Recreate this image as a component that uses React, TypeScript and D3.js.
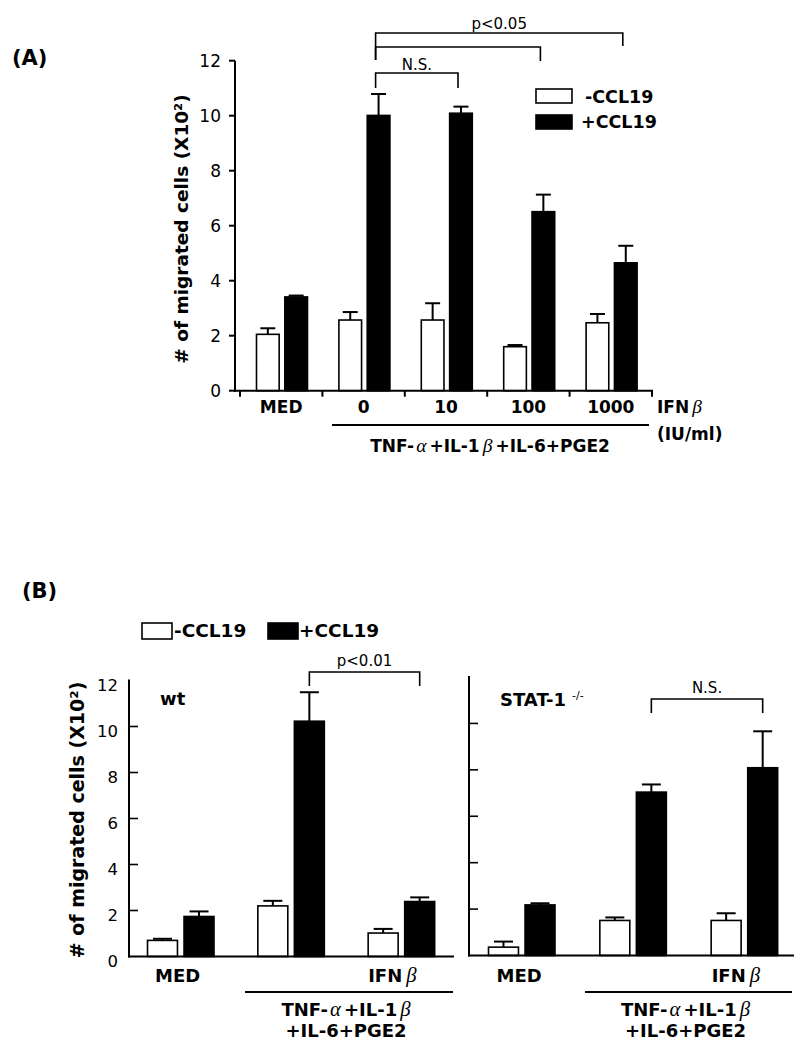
import React from "react";
import * as d3 from "d3";

// panel A
const catsA = ["MED", "0", "10", "100", "1000"];
const minusA = [2.05, 2.57, 2.57, 1.6, 2.47];
const minusErrA = [0.22, 0.29, 0.61, 0.06, 0.32];
const plusA = [3.41, 10.01, 10.09, 6.51, 4.65];
const plusErrA = [0.05, 0.78, 0.24, 0.62, 0.62];
const ticksA = [0, 2, 4, 6, 8, 10, 12];

// panel B
const catsB = ["MED", "TNF", "IFN"];
const wtMinus = [0.7, 2.2, 1.02];
const wtMinusErr = [0.07, 0.22, 0.18];
const wtPlus = [1.74, 10.23, 2.39];
const wtPlusErr = [0.22, 1.26, 0.18];
const statMinus = [0.36, 1.51, 1.51];
const statMinusErr = [0.24, 0.13, 0.31];
const statPlus = [2.18, 7.04, 8.09];
const statPlusErr = [0.07, 0.33, 1.57];
const ticksB = [0, 2, 4, 6, 8, 10, 12];

const series = ["minus", "plus"];
const SANS = "'DejaVu Sans', Verdana, sans-serif";
const SERIF = "'Liberation Serif', 'DejaVu Serif', serif";

function Greek({ ch, dx = 3 }: { ch: string; dx?: number }) {
  return (
    <tspan fontFamily={SERIF} fontStyle="italic" fontWeight="normal" fontSize="1.15em" dx={dx}>
      {ch}
    </tspan>
  );
}

function Bars({ x, sub, y, minus, minusErr, plus, plusErr, cats, cap }: any) {
  const bw = sub.bandwidth();
  return (
    <g>
      {cats.map((c: string, i: number) =>
        series.map((s) => {
          const v = s === "minus" ? minus[i] : plus[i];
          const e = s === "minus" ? minusErr[i] : plusErr[i];
          const bx = x(c) + sub(s);
          const cx = bx + bw / 2;
          return (
            <g key={c + s}>
              <line x1={cx} x2={cx} y1={y(v)} y2={y(v + e)} stroke="#000" strokeWidth={2} />
              <line x1={cx - cap / 2} x2={cx + cap / 2} y1={y(v + e)} y2={y(v + e)} stroke="#000" strokeWidth={2} />
              <rect x={bx} y={y(v)} width={bw} height={y(0) - y(v)}
                fill={s === "minus" ? "#fff" : "#000"} stroke="#000" strokeWidth={1.6} />
            </g>
          );
        })
      )}
    </g>
  );
}

function Bracket({ x1, x2, top, d1, d2, label, ly }: any) {
  return (
    <g>
      <path d={`M${x1},${d1}V${top}H${x2}V${d2}`} fill="none" stroke="#000" strokeWidth={1.6} />
      {label && (
        <text x={(x1 + x2) / 2} y={ly} textAnchor="middle" fontFamily={SANS} fontSize={15}>
          {label}
        </text>
      )}
    </g>
  );
}

function PanelA() {
  const x = d3.scaleBand().domain(catsA).range([240, 652]);
  const sub = d3.scaleBand().domain(series).range([16.5, 67.5]).paddingInner(0.2);
  const y = d3.scaleLinear().domain([0, 12]).range([390.7, 60.7]);
  const bw = x.bandwidth();
  const bx = (c: string) => (x(c) as number) + bw / 2 + 12;
  return (
    <g>
      <text x={12} y={65} fontFamily={SANS} fontWeight="bold" fontSize={21}>(A)</text>
      {/* y axis */}
      <line x1={235} x2={235} y1={y(12)} y2={y(0) + 1} stroke="#000" strokeWidth={2} />
      {ticksA.map((t) => (
        <g key={t}>
          <line x1={229} x2={235} y1={y(t)} y2={y(t)} stroke="#000" strokeWidth={2} />
          <text x={221} y={y(t)} dy="0.36em" textAnchor="end" fontFamily={SANS} fontSize={17}>{t}</text>
        </g>
      ))}
      <text transform={`translate(188,229) rotate(-90)`} textAnchor="middle" fontFamily={SANS}
        fontWeight="bold" fontSize={18.5}>
        # of migrated cells (X10²)
      </text>
      <Bars x={x} sub={sub} y={y} cats={catsA} minus={minusA} minusErr={minusErrA}
        plus={plusA} plusErr={plusErrA} cap={15} />
      {/* x axis */}
      <line x1={234} x2={653} y1={y(0)} y2={y(0)} stroke="#000" strokeWidth={2} />
      {[...catsA.map((c) => x(c) as number), 652].map((t, i) => (
        <line key={i} x1={t} x2={t} y1={y(0)} y2={y(0) + 6} stroke="#000" strokeWidth={2} />
      ))}
      {catsA.map((c) => (
        <text key={c} x={(x(c) as number) + bw / 2} y={413} textAnchor="middle" fontFamily={SANS}
          fontWeight="bold" fontSize={17}>{c}</text>
      ))}
      <text x={657} y={413} fontFamily={SANS} fontWeight="bold" fontSize={17}>
        IFN<Greek ch="β" />
      </text>
      <text x={657} y={440} fontFamily={SANS} fontWeight="bold" fontSize={17}>(IU/ml)</text>
      <line x1={332} x2={649} y1={425} y2={425} stroke="#000" strokeWidth={2} />
      <text x={490} y={452} textAnchor="middle" fontFamily={SANS} fontWeight="bold" fontSize={17}>
        TNF-<Greek ch="α" dx={2} /><tspan dx={3}>+IL-1</tspan><Greek ch="β" /><tspan dx={3}>+IL-6+PGE2</tspan>
      </text>
      {/* legend */}
      <rect x={536} y={89} width={36} height={14} fill="#fff" stroke="#000" strokeWidth={1.6} />
      <rect x={536} y={115} width={36} height={14} fill="#000" stroke="#000" strokeWidth={1.6} />
      <text x={585} y={103} fontFamily={SANS} fontWeight="bold" fontSize={17.5}>-CCL19</text>
      <text x={581} y={128} fontFamily={SANS} fontWeight="bold" fontSize={17.5}>+CCL19</text>
      {/* significance */}
      <Bracket x1={bx("0")} x2={bx("1000")} top={33} d1={60} d2={46} label="p<0.05" ly={29} />
      <Bracket x1={bx("0")} x2={bx("100")} top={47} d1={60} d2={61} />
      <Bracket x1={bx("0")} x2={bx("10")} top={73} d1={88} d2={88} label="N.S." ly={70} />
    </g>
  );
}

function SubB({ range, axisX, axisEnd, y, minus, minusErr, plus, plusErr, title, sup, sig, sigY, lineX1, lineX2, labels }: any) {
  const x = d3.scaleBand().domain(catsB).range(range);
  const sub = d3.scaleBand().domain(series).range([22, 88.5]).paddingInner(0.18);
  const bw = x.bandwidth();
  const plusC = (c: string) => (x(c) as number) + (sub("plus") as number) + sub.bandwidth() / 2;
  return (
    <g>
      <line x1={axisX} x2={axisX} y1={y(12) - 1} y2={y(0) + 1} stroke="#000" strokeWidth={2} />
      {ticksB.slice(1, -1).map((t) => (
        <line key={t} x1={axisX} x2={axisX + 9} y1={y(t)} y2={y(t)} stroke="#000" strokeWidth={1.6} />
      ))}
      {labels &&
        ticksB.map((t) => (
          <text key={t} x={118} y={y(t) + 5} dy="0.36em" textAnchor="end" fontFamily={SANS} fontSize={16.5}>{t}</text>
        ))}
      <Bars x={x} sub={sub} y={y} cats={catsB} minus={minus} minusErr={minusErr}
        plus={plus} plusErr={plusErr} cap={19} />
      <line x1={axisX - 1} x2={axisEnd} y1={y(0)} y2={y(0)} stroke="#000" strokeWidth={2} />
      <text x={(x("MED") as number) + bw / 2 - 3} y={982} textAnchor="middle" fontFamily={SANS}
        fontWeight="bold" fontSize={18}>MED</text>
      <text x={(x("IFN") as number) + bw / 2 - 9} y={982} textAnchor="middle" fontFamily={SANS}
        fontWeight="bold" fontSize={18}>IFN<Greek ch="β" dx={4} /></text>
      <line x1={lineX1} x2={lineX2} y1={992} y2={992} stroke="#000" strokeWidth={2} />
      <text x={(lineX1 + lineX2) / 2 - 3} y={1016} textAnchor="middle" fontFamily={SANS} fontWeight="bold" fontSize={18}>
        TNF-<Greek ch="α" dx={2} /><tspan dx={3}>+IL-1</tspan><Greek ch="β" />
      </text>
      <text x={(lineX1 + lineX2) / 2 - 3} y={1037} textAnchor="middle" fontFamily={SANS} fontWeight="bold" fontSize={18}>
        +IL-6+PGE2
      </text>
      <text x={axisX + 31} y={sup ? 706 : 705} fontFamily={SANS} fontWeight="bold" fontSize={18}>
        {title}
        {sup && <tspan fontSize={11} fontWeight="normal" dx={6} dy={-7}>{sup}</tspan>}
      </text>
      <Bracket x1={plusC("TNF")} x2={plusC("IFN")} top={sigY} d1={sigY + 14} d2={sigY + 14}
        label={sig} ly={sigY - 6} />
    </g>
  );
}

function PanelB() {
  const yL = d3.scaleLinear().domain([0, 12]).range([956.5, 680.5]);
  const yR = d3.scaleLinear().domain([0, 12]).range([955.5, 677]);
  return (
    <g>
      <text x={22} y={598} fontFamily={SANS} fontWeight="bold" fontSize={21}>(B)</text>
      <rect x={142} y={623} width={30} height={16} fill="#fff" stroke="#000" strokeWidth={1.6} />
      <text x={174} y={637} fontFamily={SANS} fontWeight="bold" fontSize={18.5}>-CCL19</text>
      <rect x={268} y={623} width={30} height={16} fill="#000" stroke="#000" strokeWidth={1.6} />
      <text x={299} y={637} fontFamily={SANS} fontWeight="bold" fontSize={18.5}>+CCL19</text>
      <text transform={`translate(84,820) rotate(-90)`} textAnchor="middle" fontFamily={SANS}
        fontWeight="bold" fontSize={19}>
        # of migrated cells (X10²)
      </text>
      <SubB range={[125.5, 456.5]} axisX={129} axisEnd={454} y={yL} minus={wtMinus} minusErr={wtMinusErr}
        plus={wtPlus} plusErr={wtPlusErr} title="wt" sig="p<0.01" sigY={672}
        lineX1={245} lineX2={453} labels />
      <SubB range={[466.5, 800.5]} axisX={469} axisEnd={794} y={yR} minus={statMinus} minusErr={statMinusErr}
        plus={statPlus} plusErr={statPlusErr} title="STAT-1" sup="-/-" sig="N.S." sigY={699}
        lineX1={585} lineX2={792} />
    </g>
  );
}

export default function App() {
  return (
    <svg width={806} height={1050} style={{ position: "absolute", left: 0, top: 0, background: "#fff" }}>
      <rect width={806} height={1050} fill="#fff" />
      <PanelA />
      <PanelB />
    </svg>
  );
}
